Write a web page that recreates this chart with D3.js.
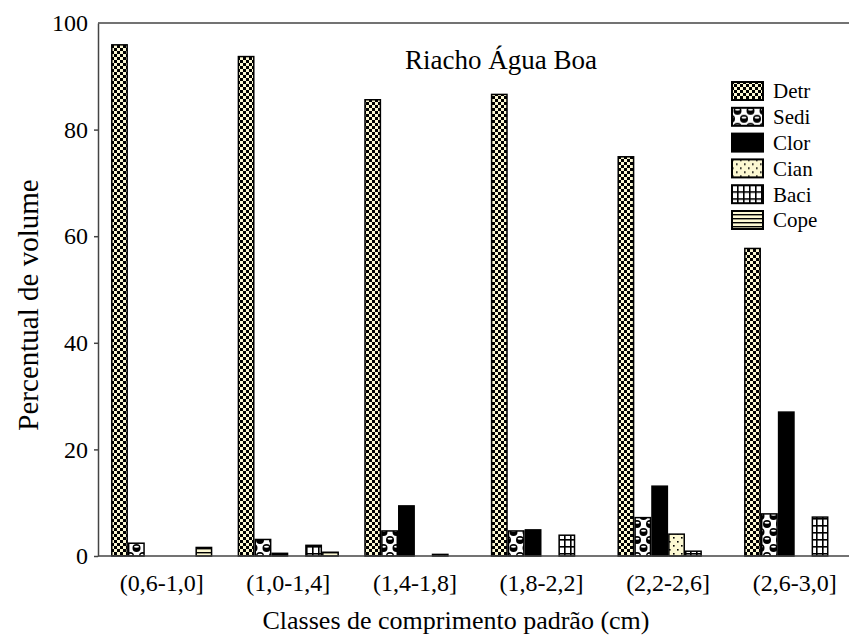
<!DOCTYPE html>
<html><head><meta charset="utf-8">
<script src="https://cdn.jsdelivr.net/npm/d3@7"></script>
<style>body{margin:0;background:#fff}svg{display:block}text{font-family:"Liberation Serif","Times New Roman",serif;fill:#000}</style>
</head><body><div id="c"></div>
<script>
const categories = ["(0,6-1,0]","(1,0-1,4]","(1,4-1,8]","(1,8-2,2]","(2,2-2,6]","(2,6-3,0]"];
const seriesNames = ["Detr","Sedi","Clor","Cian","Baci","Cope"];
const Detr = [95.9, 93.7, 85.6, 86.6, 74.9, 57.7];
const Sedi = [2.4, 3.1, 4.7, 4.7, 7.2, 7.9];
const Clor = [0, 0.5, 9.4, 4.9, 13.1, 27.0];
const Cian = [0, 0, 0, 0, 4.1, 0];
const Baci = [0, 2.0, 0.3, 3.9, 0.9, 7.3];
const Cope = [1.6, 0.7, 0, 0, 0, 0];
const yTicks = [0, 20, 40, 60, 80, 100];
const title = "Riacho Água Boa";
const xTitle = "Classes de comprimento padrão (cm)";
const yTitle = "Percentual de volume";

const values = {Detr, Sedi, Clor, Cian, Baci, Cope};
const W = 849, H = 637;
const svg = d3.select("#c").append("svg").attr("width", W).attr("height", H);
const defs = svg.append("defs");
const cream = "#fcf8d2";

function pat(id, w, h){ return defs.append("pattern").attr("id", id).attr("patternUnits","userSpaceOnUse").attr("width", w).attr("height", h); }
let p = pat("pDetr", 6, 6);
p.append("rect").attr("width",6).attr("height",6).attr("fill",cream);
p.append("rect").attr("width",3).attr("height",3).attr("fill","#000");
p.append("rect").attr("x",3).attr("y",3).attr("width",3).attr("height",3).attr("fill","#000");

p = pat("pSedi", 13, 16);
p.append("rect").attr("width",13).attr("height",16).attr("fill","#fff");
[[6.5,4],[0,12],[13,12]].forEach(([cx,cy])=>{
  p.append("circle").attr("cx",cx).attr("cy",cy).attr("r",4).attr("fill","#000");
  p.append("ellipse").attr("cx",cx).attr("cy",cy-1.3).attr("rx",2.5).attr("ry",1).attr("fill","#fff");
});

p = pat("pCian", 8, 8);
p.append("rect").attr("width",8).attr("height",8).attr("fill",cream);
p.append("rect").attr("x",1).attr("y",1).attr("width",1.6).attr("height",1.6).attr("fill","#000");
p.append("rect").attr("x",5).attr("y",5).attr("width",1.6).attr("height",1.6).attr("fill","#000");

p = pat("pBaci", 6, 7);
p.append("rect").attr("width",6).attr("height",7).attr("fill","#fff");
p.append("rect").attr("x",0).attr("y",0).attr("width",1.6).attr("height",7).attr("fill","#000");
p.append("rect").attr("x",0).attr("y",0).attr("width",6).attr("height",1.6).attr("fill","#000");

p = pat("pCope", 4, 4);
p.append("rect").attr("width",4).attr("height",4).attr("fill",cream);
p.append("rect").attr("y",0).attr("width",4).attr("height",1.4).attr("fill","#000");

const fills = {Detr:"url(#pDetr)", Sedi:"url(#pSedi)", Clor:"#000", Cian:"url(#pCian)", Baci:"url(#pBaci)", Cope:"url(#pCope)"};

const mLeft = 98, mTop = 23, mBottom = 556;
const y = d3.scaleLinear().domain([0,100]).range([mBottom, mTop]);
const x0 = d3.scaleBand().domain(categories).range([mLeft, 858.4]).paddingInner(0.2).paddingOuter(0.103);
const x1 = d3.scaleBand().domain(seriesNames).range([0, x0.bandwidth()]);

const g = svg.append("g");
categories.forEach((c, i) => {
  seriesNames.forEach(s => {
    const v = values[s][i];
    if (v <= 0) return;
    const x = x0(c) + x1(s);
    g.append("rect")
      .attr("x", x + 0.75).attr("y", y(v))
      .attr("width", x1.bandwidth() - 1.5).attr("height", Math.max(0, y(0) - y(v)))
      .attr("fill", fills[s]).attr("stroke", "#000").attr("stroke-width", 1.5);
  });
});

const axisColor = "#444";
const yAxis = svg.append("g").attr("transform", `translate(${mLeft},0)`)
  .call(d3.axisLeft(y).tickValues(yTicks).tickSize(4).tickSizeOuter(0).tickPadding(6));
yAxis.select(".domain").attr("stroke", axisColor).attr("stroke-width", 1.5);
yAxis.selectAll(".tick line").attr("stroke", axisColor).attr("stroke-width", 1.5);
yAxis.selectAll(".tick text").attr("font-size", 24).attr("font-family", "Liberation Serif").attr("fill","#000");
yAxis.selectAll(".tick").filter(d => d === 100).select("line").remove();

const xAxis = svg.append("g").attr("transform", `translate(0,${mBottom})`)
  .call(d3.axisBottom(x0).tickSize(0).tickSizeOuter(0).tickPadding(18));
xAxis.select(".domain").attr("stroke", axisColor).attr("stroke-width", 1.5).attr("d", `M${mLeft},0H${W}`);
xAxis.selectAll(".tick text").attr("font-size", 24).attr("font-family", "Liberation Serif").attr("fill","#000");

svg.append("line").attr("x1", mLeft).attr("x2", W).attr("y1", mTop).attr("y2", mTop)
  .attr("stroke", axisColor).attr("stroke-width", 1.5);

svg.append("text").attr("x", 501).attr("y", 69).attr("text-anchor","middle").attr("font-size", 27).text(title);
svg.append("text").attr("x", 456).attr("y", 629).attr("text-anchor","middle").attr("font-size", 26).text(xTitle);
svg.append("text").attr("transform", "translate(38,305) rotate(-90)").attr("text-anchor","middle").attr("font-size", 29).text(yTitle);

const lg = svg.append("g").attr("transform", "translate(731,81)");
seriesNames.forEach((s, i) => {
  const row = lg.append("g").attr("transform", `translate(0,${i*25.8})`);
  row.append("rect").attr("x",1).attr("y",1).attr("width", 31).attr("height", 18)
    .attr("fill", fills[s]).attr("stroke","#000").attr("stroke-width", 2);
  row.append("text").attr("x", 42).attr("y", 10).attr("dy","0.35em").attr("font-size", 21).text(s);
});
</script></body></html>
